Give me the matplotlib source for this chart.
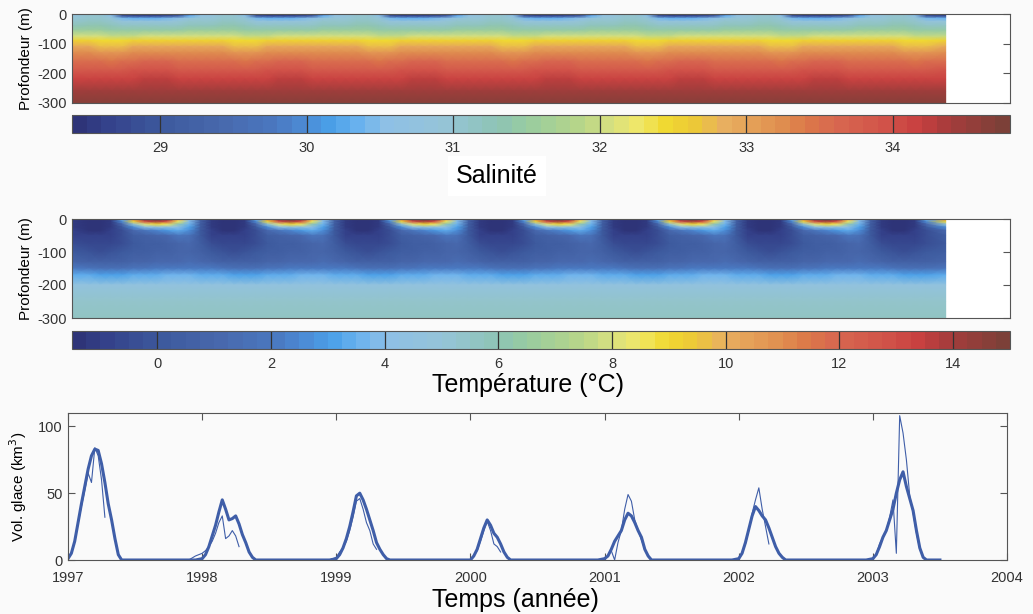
import numpy as np
import matplotlib.pyplot as plt
from matplotlib.colors import LinearSegmentedColormap

plt.rcParams['font.family'] = ['Liberation Sans', 'DejaVu Sans']
plt.rcParams['axes.unicode_minus'] = False

# colour map (fraction, colour)
cmap_nodes = [
    (0.000, '#2e3478'), (0.030, '#34418a'), (0.091, '#3d5a9e'), (0.152, '#4868ac'),
    (0.212, '#4a78c0'), (0.242, '#4c8ad4'), (0.273, '#4aa0e8'), (0.303, '#6ab2ee'),
    (0.333, '#8ec0e6'), (0.394, '#95c4d8'), (0.455, '#8ec4b4'), (0.485, '#98cca0'),
    (0.545, '#b8d688'), (0.576, '#d8e080'), (0.606, '#f0e868'), (0.636, '#f0d830'),
    (0.667, '#ecc838'), (0.697, '#e8b060'), (0.758, '#e09050'), (0.788, '#dc7848'),
    (0.818, '#d86850'), (0.879, '#d05048'), (0.909, '#c84040'), (0.939, '#a83c3c'),
    (1.000, '#7c4038'),
]

# ---- salinity: monthly climatology (rows = depth, cols = Jan..Dec)
sal_depth = [0, 8, 15, 25, 40, 55, 75, 90, 110, 130, 160, 190, 220, 260, 300]
sal_clim = [
    [30.7, 30.9, 30.9, 30.4, 28.6, 28.4, 28.4, 28.4, 28.5, 28.6, 29.8, 30.5],
    [30.8, 31.0, 31.0, 30.6, 29.0, 28.8, 28.8, 28.8, 28.9, 29.2, 30.3, 30.7],
    [30.9, 31.0, 31.0, 30.9, 30.4, 30.3, 30.3, 30.3, 30.4, 30.5, 30.8, 30.9],
    [31.0, 31.1, 31.1, 31.0, 30.8, 30.8, 30.8, 30.8, 30.8, 30.9, 31.0, 31.0],
    [31.2, 31.3, 31.3, 31.2, 31.1, 31.1, 31.1, 31.1, 31.1, 31.1, 31.2, 31.2],
    [31.5, 31.5, 31.5, 31.4, 31.4, 31.4, 31.4, 31.4, 31.4, 31.4, 31.5, 31.5],
    [32.0, 32.0, 32.0, 31.9, 31.9, 31.9, 32.0, 32.0, 32.0, 32.0, 32.0, 32.0],
    [32.5, 32.5, 32.4, 32.4, 32.4, 32.5, 32.5, 32.5, 32.5, 32.5, 32.5, 32.5],
    [32.9, 32.9, 32.8, 32.8, 32.8, 32.9, 32.9, 32.9, 32.9, 32.9, 32.9, 32.9],
    [33.2, 33.2, 33.1, 33.1, 33.1, 33.2, 33.2, 33.2, 33.2, 33.2, 33.2, 33.2],
    [33.5, 33.5, 33.5, 33.4, 33.5, 33.5, 33.6, 33.6, 33.6, 33.5, 33.5, 33.5],
    [33.8, 33.8, 33.8, 33.8, 33.8, 33.9, 33.9, 33.9, 33.9, 33.8, 33.8, 33.8],
    [34.1, 34.1, 34.1, 34.1, 34.1, 34.1, 34.2, 34.2, 34.2, 34.1, 34.1, 34.1],
    [34.4, 34.4, 34.4, 34.4, 34.4, 34.4, 34.4, 34.4, 34.4, 34.4, 34.4, 34.4],
    [34.6, 34.6, 34.6, 34.6, 34.6, 34.6, 34.6, 34.6, 34.6, 34.6, 34.6, 34.6],
]

# ---- temperature: monthly climatology (rows = depth, cols = Jan..Dec)
temp_depth = [0, 8, 16, 25, 35, 50, 75, 100, 130, 150, 170, 200, 250, 300]
temp_clim = [
    [-1.2, -1.5, -1.5, -1.2, 3.5, 11.0, 14.5, 15.0, 14.5, 10.0, 4.0, 0.5],
    [-1.2, -1.5, -1.5, -1.2, 2.5, 9.0, 13.0, 14.0, 13.0, 8.5, 3.8, 0.5],
    [-1.1, -1.4, -1.4, -1.2, 1.0, 5.0, 8.0, 9.0, 8.5, 6.0, 3.5, 0.4],
    [-1.1, -1.4, -1.4, -1.1, 0.2, 2.5, 4.0, 4.5, 4.5, 4.2, 3.2, 0.3],
    [-1.0, -1.3, -1.3, -1.0, -0.3, 1.0, 1.8, 2.3, 2.8, 3.3, 2.5, 0.2],
    [-0.8, -1.0, -1.0, -0.8, -0.3, 0.3, 0.6, 0.8, 1.1, 1.8, 1.7, 0.2],
    [-0.5, -0.7, -0.7, -0.6, -0.3, 0.1, 0.3, 0.4, 0.6, 0.9, 1.2, 0.3],
    [0.0, -0.2, -0.3, -0.2, 0.0, 0.3, 0.4, 0.5, 0.6, 0.8, 0.9, 0.5],
    [0.8, 0.6, 0.5, 0.6, 0.7, 0.8, 0.9, 1.0, 1.1, 1.2, 1.3, 1.1],
    [2.0, 1.8, 1.6, 1.6, 1.7, 1.8, 1.9, 2.0, 2.1, 2.2, 2.2, 2.2],
    [3.3, 3.3, 3.1, 3.0, 3.1, 3.3, 3.3, 3.4, 3.5, 3.5, 3.5, 3.4],
    [4.6, 4.6, 4.6, 4.6, 4.6, 4.6, 4.6, 4.6, 4.6, 4.6, 4.6, 4.6],
    [5.3, 5.3, 5.3, 5.3, 5.3, 5.3, 5.3, 5.3, 5.3, 5.3, 5.3, 5.3],
    [5.5, 5.5, 5.5, 5.5, 5.5, 5.5, 5.5, 5.5, 5.5, 5.5, 5.5, 5.5],
]

n_months = 78  # Jan 1997 .. Jun 2003

# ---- ice volume (km3), per winter, at offsets (years) from 1 Jan
ice_offsets = [-0.10, -0.05, 0.0, 0.025, 0.05, 0.075, 0.10, 0.125, 0.15, 0.175, 0.20,
               0.225, 0.25, 0.275, 0.30, 0.325, 0.35, 0.375, 0.40, 0.425, 0.45, 0.50]
ice_years = [1997, 1998, 1999, 2000, 2001, 2002, 2003]
nan = np.nan
ice_thick = [
    [0, 0, 1, 5, 14, 28, 42, 55, 68, 78, 83, 82, 72, 58, 42, 30, 16, 4, 0, 0, 0, 0],
    [0, 0, 1, 4, 10, 18, 26, 36, 45, 38, 30, 31, 33, 27, 19, 13, 6, 2, 0, 0, 0, 0],
    [0, 0, 1, 4, 9, 16, 25, 36, 48, 50, 45, 38, 30, 22, 13, 8, 4, 1, 0, 0, 0, 0],
    [0, 0, 0, 3, 8, 16, 24, 30, 26, 20, 17, 12, 6, 2, 0, 0, 0, 0, 0, 0, 0, 0],
    [0, 0, 1, 3, 8, 14, 18, 22, 30, 35, 33, 28, 22, 17, 8, 3, 0, 0, 0, 0, 0, 0],
    [0, 0, 1, 5, 13, 23, 33, 40, 37, 33, 30, 24, 17, 10, 5, 2, 0, 0, 0, 0, 0, 0],
    [0, 0, 1, 4, 10, 17, 22, 30, 38, 50, 60, 66, 55, 46, 37, 22, 9, 2, 0, 0, 0, 0],
]
ice_thin = [
    [0, 0, 1, 5, 14, 27, 40, 52, 65, 58, 84, 78, 60, 32, nan, nan, nan, nan, nan, 0, 0, 0],
    [0, 3, 5, 7, 10, 14, 20, 28, 33, 16, 18, 22, 18, 10, nan, nan, nan, nan, nan, 0, 0, 0],
    [0, 0, 2, 6, 9, 14, 22, 32, 44, 46, 38, 28, 22, 12, 8, nan, nan, nan, nan, 0, 0, 0],
    [0, 0, 0, 3, 7, 14, 22, 29, 22, 12, 10, 6, nan, nan, nan, nan, nan, nan, nan, 0, 0, 0],
    [0, 0, 1, 3, 7, 0, 13, 22, 38, 49, 44, 30, 22, 15, 8, 3, 0, 0, 0, 0, 0, 0],
    [0, 0, 1, 5, 12, 22, 35, 45, 54, 38, 25, 12, nan, nan, nan, nan, nan, nan, nan, 0, 0, 0],
    [0, 0, 1, 4, 12, 17, 22, 32, 45, 5, 108, 95, 75, 48, 35, 20, 8, 2, 0, 0, 0, 0],
]

cmap = LinearSegmentedColormap.from_list('ocean', cmap_nodes)

month_t = 1997 + (np.arange(n_months) + 0.5) / 12
month_t[0] = 1997.0
month_t[-1] = 2003.52

fig = plt.figure(figsize=(10.33, 6.14), dpi=100, facecolor='#fafafa')
W, H = 1033, 614


def px_axes(x0, y0, x1, y1):
    return fig.add_axes([x0 / W, 1 - y1 / H, (x1 - x0) / W, (y1 - y0) / H])


spine_col = '#555555'
tick_col = '#333333'
tick_size = 10.5


def heat_panel(y0, y1, cy0, cy1, depth, clim, vmin, vmax, nbands, ticks):
    ax = px_axes(72, y0, 1010, y1)
    ax.set_facecolor('white')
    field = np.tile(np.array(clim), (1, 7))[:, :n_months]
    T, D = np.meshgrid(month_t, -np.array(depth))
    cm = cmap.resampled(nbands)
    mesh = ax.pcolormesh(T, D, field, shading='gouraud', cmap=cm, vmin=vmin, vmax=vmax)
    ax.set_xlim(1997, 2004)
    ax.set_ylim(-300, 0)
    ax.set_xticks([])
    ax.set_yticks([0, -100, -200, -300])
    ax.tick_params(axis='y', left=False, right=True, direction='in', length=5,
                   color=spine_col, labelsize=tick_size, labelcolor=tick_col, pad=4)
    for s in ax.spines.values():
        s.set_color(spine_col)
        s.set_linewidth(0.8)
    ax.set_ylabel('Profondeur (m)', fontsize=11, labelpad=3)

    cax = px_axes(72, cy0, 1010, cy1)
    cb = fig.colorbar(mesh, cax=cax, orientation='horizontal')
    cb.set_ticks(ticks)
    cb.outline.set_edgecolor(spine_col)
    cb.outline.set_linewidth(0.8)
    cax.tick_params(axis='x', direction='in', length=(cy1 - cy0) * 0.72, width=0.9,
                    color='#333333', labelsize=tick_size, labelcolor=tick_col, pad=6)
    return ax


heat_panel(14, 103, 115, 133, sal_depth, sal_clim, 28.4, 34.8, 64,
           [29, 30, 31, 32, 33, 34])
fig.text(497 / W, 1 - 176 / H, 'Salinité', fontsize=18, ha='center', va='center',
         bbox=dict(facecolor='white', edgecolor='none', pad=6))

heat_panel(219, 318, 331, 349, temp_depth, temp_clim, -1.5, 15, 66,
           [0, 2, 4, 6, 8, 10, 12, 14])
fig.text(528 / W, 1 - 385 / H, 'Température (°C)', fontsize=18, ha='center', va='center')

# ---- ice volume panel
ax3 = px_axes(68, 413, 1007, 560)
ax3.set_facecolor('#fafafa')
t_all = np.concatenate([y + np.array(ice_offsets) for y in ice_years])
thick_all = np.concatenate([np.array(v, dtype=float) for v in ice_thick])
thin_all = np.concatenate([np.array(v, dtype=float) for v in ice_thin])
line_col = '#3f5ea8'
ax3.plot(t_all, thin_all, color=line_col, lw=0.8)
ax3.plot(t_all, thick_all, color=line_col, lw=2.2)
ax3.set_xlim(1997, 2004)
ax3.set_ylim(0, 110)
ax3.set_xticks(range(1997, 2005))
ax3.set_yticks([0, 50, 100])
ax3.tick_params(direction='in', top=True, right=True, length=5, color=spine_col,
                labelsize=tick_size, labelcolor=tick_col)
ax3.tick_params(axis='x', pad=8)
ax3.tick_params(axis='y', pad=4)
for s in ax3.spines.values():
    s.set_color(spine_col)
    s.set_linewidth(0.8)
ax3.set_ylabel('Vol. glace (km$^3$)', fontsize=11, labelpad=6)
fig.text(515 / W, 1 - 600 / H, 'Temps (année)', fontsize=18, ha='center', va='center')

fig.savefig('out.png', dpi=100, facecolor=fig.get_facecolor())
